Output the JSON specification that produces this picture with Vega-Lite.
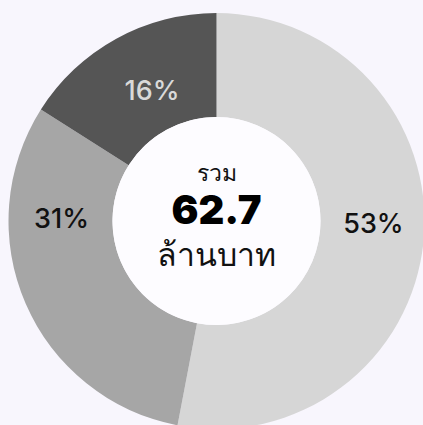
{
  "$schema": "https://vega.github.io/schema/vega-lite/v6.json",
  "width": 413,
  "height": 408,
  "autosize": "none",
  "padding": {"left": 10, "top": 17, "right": 0, "bottom": 0},
  "background": "#f8f6fd",
  "config": {"view": {"stroke": null}},
  "layer": [
    {
      "data": {"values": [
        {"group": "A", "share": 53, "label": "53%", "rank": 1},
        {"group": "B", "share": 31, "label": "31%", "rank": 2},
        {"group": "C", "share": 16, "label": "16%", "rank": 3}
      ]},
      "encoding": {
        "theta": {"field": "share", "type": "quantitative", "stack": true},
        "order": {"field": "rank", "type": "quantitative"}
      },
      "layer": [
        {
          "mark": {"type": "arc", "outerRadius": 208, "innerRadius": 104},
          "encoding": {
            "color": {"field": "group", "type": "nominal", "legend": null,
              "scale": {"domain": ["A", "B", "C"], "range": ["#d6d6d6", "#a6a6a6", "#555555"]}}
          }
        },
        {
          "mark": {"type": "text", "radius": 157, "thetaOffset": -0.068, "font": "Inter", "fontSize": 27, "fontWeight": 500, "baseline": "middle", "align": "center", "color": "#111111"},
          "encoding": {
            "text": {"condition": {"test": "datum.group === 'A'", "field": "label"}, "value": ""}
          }
        },
        {
          "mark": {"type": "text", "radius": 155, "thetaOffset": 0.415, "font": "Inter", "fontSize": 27, "fontWeight": 500, "baseline": "middle", "align": "center", "color": "#111111"},
          "encoding": {
            "text": {"condition": {"test": "datum.group === 'B'", "field": "label"}, "value": ""}
          }
        },
        {
          "mark": {"type": "text", "radius": 144, "thetaOffset": 0.038, "font": "Inter", "fontSize": 27, "fontWeight": 500, "baseline": "middle", "align": "center", "color": "#d9d9d9"},
          "encoding": {
            "text": {"condition": {"test": "datum.group === 'C'", "field": "label"}, "value": ""}
          }
        }
      ]
    },
    {
      "data": {"values": [{"line1": "รวม", "line2": "62.7", "line3": "ล้านบาท"}]},
      "layer": [
        {"mark": {"type": "arc", "radius": 104, "theta": 0, "theta2": 6.2832, "fill": "#fdfcff"}, "encoding": {}},
        {"mark": {"type": "text", "font": "Noto Sans", "fontSize": 23, "dy": -40, "baseline": "alphabetic", "align": "center", "color": "#111111"},
         "encoding": {"text": {"field": "line1"}}},
        {"mark": {"type": "text", "font": "Inter", "fontSize": 40, "fontWeight": 900, "dy": 3, "baseline": "alphabetic", "align": "center", "color": "#000000"},
         "encoding": {"text": {"field": "line2"}}},
        {"mark": {"type": "text", "font": "Noto Sans", "fontSize": 32, "dy": 45, "baseline": "alphabetic", "align": "center", "color": "#111111"},
         "encoding": {"text": {"field": "line3"}}}
      ]
    }
  ]
}
